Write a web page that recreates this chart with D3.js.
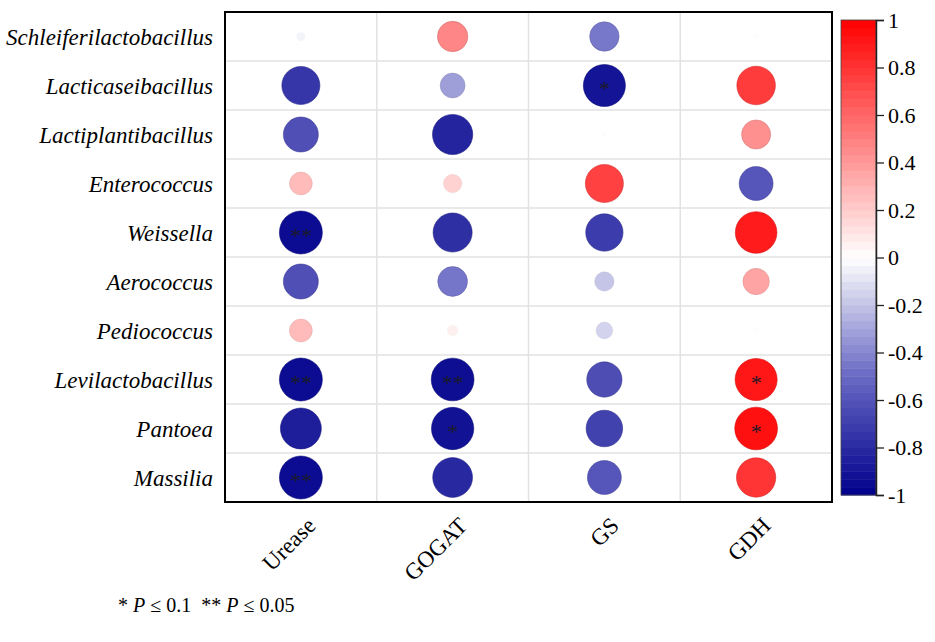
<!DOCTYPE html>
<html>
<head>
<meta charset="utf-8">
<script src="https://cdn.jsdelivr.net/npm/d3@7"></script>
<style>
  html, body { margin: 0; padding: 0; background: #fff; }
  svg { display: block; font-family: "Liberation Serif", "Times New Roman", serif; }
</style>
</head>
<body>
<svg id="chart" width="935" height="642"></svg>
<script>
// ---------- data ----------
const genera = ["Schleiferilactobacillus", "Lacticaseibacillus", "Lactiplantibacillus", "Enterococcus",
  "Weissella", "Aerococcus", "Pediococcus", "Levilactobacillus", "Pantoea", "Massilia"];
const enzymes = ["Urease", "GOGAT", "GS", "GDH"];
const urease = [-0.04, -0.77, -0.65, 0.28, -0.98, -0.65, 0.28, -0.98, -0.89, -0.98];
const gogat  = [0.49, -0.33, -0.86, 0.18, -0.81, -0.47, 0.06, -0.97, -0.95, -0.84];
const gs     = [-0.46, -0.94, -0.01, 0.77, -0.74, -0.20, -0.15, -0.66, -0.71, -0.61];
const gdh    = [0.01, 0.79, 0.45, -0.61, 0.92, 0.37, 0.01, 0.94, 0.97, 0.82];
const ureaseSig = ["", "", "", "", "**", "", "", "**", "", "**"];
const gogatSig  = ["", "", "", "", "", "", "", "**", "*", ""];
const gsSig     = ["", "*", "", "", "", "", "", "", "", ""];
const gdhSig    = ["", "", "", "", "", "", "", "*", "*", ""];
const colorbarTicks = [1, 0.8, 0.6, 0.4, 0.2, 0, -0.2, -0.4, -0.6, -0.8, -1];
const colorbarLabels = ["1", "0.8", "0.6", "0.4", "0.2", "0", "-0.2", "-0.4", "-0.6", "-0.8", "-1"];
const legendText = ["* ", "P", " ≤ 0.1  ** ", "P", " ≤ 0.05"];

const seriesValues = [urease, gogat, gs, gdh];
const seriesSig = [ureaseSig, gogatSig, gsSig, gdhSig];
const cells = [];
enzymes.forEach((e, j) => genera.forEach((g, i) => cells.push({
  enzyme: e, genus: g, value: seriesValues[j][i], sig: seriesSig[j][i]
})));

// ---------- layout ----------
const svg = d3.select("#chart");
const plot = { left: 225, right: 832, top: 12, bottom: 502 };

const x = d3.scaleBand().domain(enzymes).range([plot.left, plot.right]);
const y = d3.scaleBand().domain(genera).range([plot.top, plot.bottom]);
const color = d3.scaleLinear().domain([-1, -0.5, 0, 1])
  .range(["#00008c", "#6868c4", "#ffffff", "#ff0000"]);
const rScale = d3.scaleSqrt().domain([0, 1]).range([0, 21.7]);

// gridlines
const grid = svg.append("g").attr("stroke", "#e2e2e2").attr("stroke-width", 1.5);
grid.selectAll("line.h").data(genera.slice(1)).join("line")
  .attr("x1", plot.left).attr("x2", plot.right)
  .attr("y1", d => y(d)).attr("y2", d => y(d));
grid.selectAll("line.v").data(enzymes.slice(1)).join("line")
  .attr("y1", plot.top).attr("y2", plot.bottom)
  .attr("x1", d => x(d)).attr("x2", d => x(d));

// circles
svg.append("g").selectAll("circle").data(cells).join("circle")
  .attr("cx", d => x(d.enzyme) + x.bandwidth() / 2)
  .attr("cy", d => y(d.genus) + y.bandwidth() / 2)
  .attr("r", d => rScale(Math.abs(d.value)))
  .attr("fill", d => color(d.value))
  .attr("fill-opacity", 0.97)
  .attr("stroke", d => d3.color(color(d.value)).darker(0.6))
  .attr("stroke-opacity", d => 0.55 * Math.min(1, Math.abs(d.value) * 2))
  .attr("stroke-width", 1);

// significance marks
svg.append("g").selectAll("text").data(cells.filter(d => d.sig)).join("text")
  .attr("x", d => x(d.enzyme) + x.bandwidth() / 2)
  .attr("y", d => y(d.genus) + y.bandwidth() / 2 + 10)
  .attr("text-anchor", "middle")
  .attr("font-size", 22)
  .attr("fill", "#1a1a2a")
  .text(d => d.sig);

// frame
svg.append("rect")
  .attr("x", plot.left).attr("y", plot.top)
  .attr("width", plot.right - plot.left).attr("height", plot.bottom - plot.top)
  .attr("fill", "none").attr("stroke", "#000").attr("stroke-width", 2);

// y labels
svg.append("g").selectAll("text").data(genera).join("text")
  .attr("x", 213)
  .attr("y", d => y(d) + y.bandwidth() / 2 + 8)
  .attr("text-anchor", "end")
  .attr("font-size", 23)
  .attr("font-style", "italic")
  .attr("fill", "#000")
  .text(d => d);

// x labels
svg.append("g").selectAll("text").data(enzymes).join("text")
  .attr("transform", d => `translate(${x(d) + x.bandwidth() / 2 + 16},${527}) rotate(-45)`)
  .attr("text-anchor", "end")
  .attr("font-size", 23)
  .attr("fill", "#000")
  .text(d => d);

// colorbar
const cb = { x: 841, w: 35, top: 20, bottom: 495 };
const cy = d3.scaleLinear().domain([-1, 1]).range([cb.bottom, cb.top]);
const nBands = 60;
const bands = d3.range(nBands).map(i => -1 + (i + 0.5) * 2 / nBands);
svg.append("g").selectAll("rect").data(bands).join("rect")
  .attr("x", cb.x).attr("width", cb.w)
  .attr("y", d => cy(d + 1 / nBands))
  .attr("height", d => cy(d - 1 / nBands) - cy(d + 1 / nBands) + 0.5)
  .attr("fill", d => color(d));
svg.append("rect")
  .attr("x", cb.x).attr("y", cb.top).attr("width", cb.w).attr("height", cb.bottom - cb.top)
  .attr("fill", "none").attr("stroke", "#444").attr("stroke-width", 0.8);

const cbAxis = d3.axisRight(cy).tickValues(colorbarTicks).tickSize(8).tickPadding(4)
  .tickFormat((d, i) => colorbarLabels[i]);
const axG = svg.append("g").attr("transform", `translate(${cb.x + cb.w},0)`).call(cbAxis);
axG.select(".domain").attr("stroke", "#222").attr("stroke-width", 1.5);
axG.selectAll(".tick line").attr("stroke", "#222").attr("stroke-width", 1.3);
axG.selectAll(".tick text").attr("font-size", 22)
  .attr("font-family", "Liberation Serif, Times New Roman, serif").attr("fill", "#000");

// legend
const leg = svg.append("text").attr("x", 118).attr("y", 612).attr("font-size", 20).attr("fill", "#000");
leg.selectAll("tspan").data(legendText).join("tspan")
  .attr("font-style", d => d === "P" ? "italic" : "normal")
  .style("white-space", "pre")
  .text(d => d);
</script>
</body>
</html>
